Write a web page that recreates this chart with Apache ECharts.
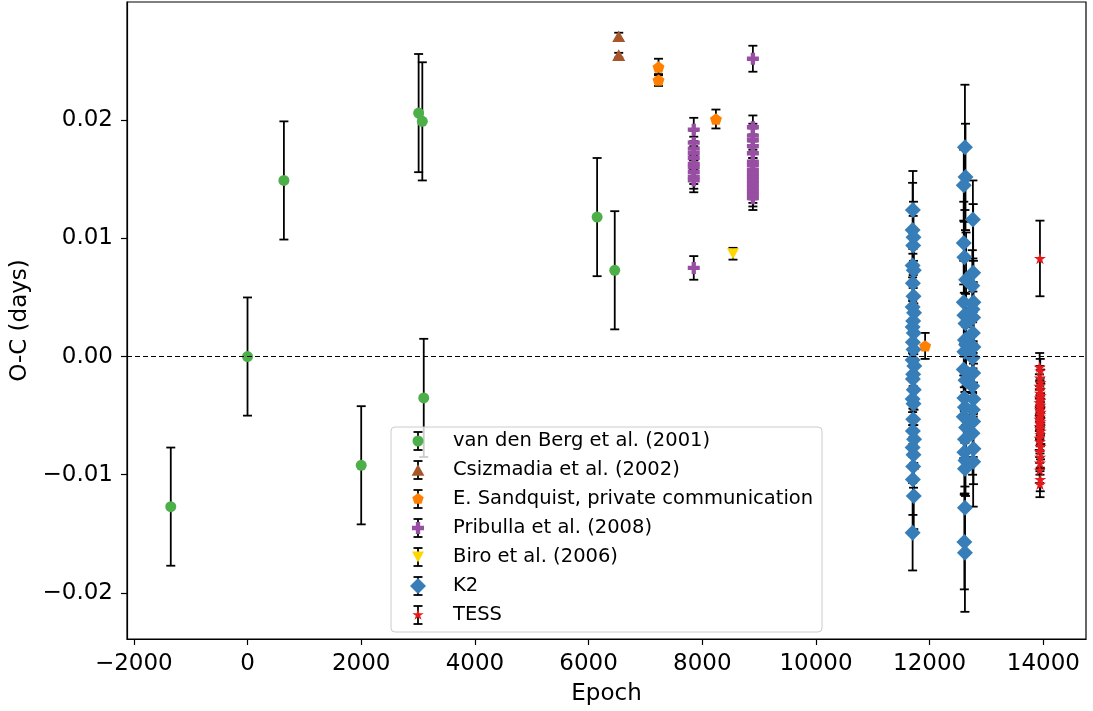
<!DOCTYPE html>
<html>
<head>
<meta charset="utf-8">
<script src="https://cdn.jsdelivr.net/npm/echarts@6/dist/echarts.min.js"></script>
<style>html,body{margin:0;padding:0;background:#fff}#c{width:1093px;height:711px}</style>
</head>
<body>
<div id="c"></div>
<script>
// ---------- data ----------
const xTicks = [-2000, 0, 2000, 4000, 6000, 8000, 10000, 12000, 14000];
const yTicks = [-0.02, -0.01, 0.0, 0.01, 0.02];

const vdbEpoch = [-1350, 0, 640, 2000, 3010, 3075, 3100, 6150, 6460];
const vdbOC    = [-0.0127, 0.0000, 0.0149, -0.0092, 0.0206, 0.0199, -0.0035, 0.0118, 0.0073];
const vdbErr   = [0.005, 0.005, 0.005, 0.005, 0.005, 0.005, 0.005, 0.005, 0.005];

const csiEpoch = [6530, 6530];
const csiOC    = [0.0271, 0.0255];
const csiErr   = [0.0003, 0.0002];

const sandEpoch = [7230, 7230, 8240, 11920];
const sandOC    = [0.0245, 0.0234, 0.0201, 0.0009];
const sandErr   = [0.0007, 0.0005, 0.0008, 0.0011];

const pribEpoch = [7850, 7850, 7850, 7850, 7850, 7850, 7850, 7850, 7850, 7850, 7850,
                   8890, 8890, 8890, 8890, 8890, 8890, 8890, 8890, 8890, 8890, 8890, 8890, 8890, 8890, 8890, 8890, 8890];
const pribOC    = [0.0192, 0.0181, 0.0176, 0.0172, 0.0168, 0.0163, 0.0160, 0.0156, 0.0152, 0.0149, 0.0075,
                   0.0252, 0.0194, 0.0187, 0.0183, 0.0178, 0.0172, 0.0165, 0.0162, 0.0158, 0.0155, 0.0152, 0.0149, 0.0146, 0.0143, 0.0140, 0.0137, 0.0134];
const pribErr   = [0.0010, 0.0010, 0.0010, 0.0010, 0.0010, 0.0010, 0.0010, 0.0010, 0.0010, 0.0010, 0.0010,
                   0.0011, 0.0010, 0.0010, 0.0010, 0.0010, 0.0010, 0.0010, 0.0010, 0.0010, 0.0010, 0.0010, 0.0010, 0.0010, 0.0010, 0.0010, 0.0010, 0.0010];

const biroEpoch = [8540];
const biroOC    = [0.0087];
const biroErr   = [0.0005];

const k2Epoch = [
  11705, 11700, 11715, 11710, 11700, 11720, 11705, 11715, 11700, 11725, 11710, 11700, 11720, 11705, 11715, 11700,
  11730, 11710, 11705, 11720, 11700, 11715, 11710, 11705, 11725, 11700, 11715, 11710, 11705, 11720, 11700,
  12620, 12630, 12600, 12600, 12610, 12640, 12600, 12610, 12630, 12620, 12640, 12610, 12600, 12630, 12610, 12620,
  12600, 12640, 12620, 12610, 12630, 12620, 12620, 12610, 12620,
  12760, 12765, 12750, 12770, 12755, 12765, 12760, 12770, 12755, 12765, 12750, 12770, 12760, 12765, 12755, 12770, 12765];
const k2OC = [
  0.0124, 0.0107, 0.0101, 0.0094, 0.0077, 0.0073, 0.0062, 0.0051, 0.0042, 0.0037, 0.0030, 0.0025, 0.0020, 0.0012, 0.0006, -0.0003,
  -0.0008, -0.0015, -0.0019, -0.0028, -0.0036, -0.0040, -0.0053, -0.0063, -0.0070, -0.0077, -0.0083, -0.0093, -0.0104, -0.0118, -0.0149,
  0.0177, 0.0152, 0.0145, 0.0096, 0.0084, 0.0065, 0.0046, 0.0035, 0.0028, 0.0014, 0.0010, 0.0004, -0.0011, -0.0020, -0.0035, -0.0043,
  -0.0051, -0.0060, -0.0070, -0.0081, -0.0088, -0.0095, -0.0128, -0.0157, -0.0166,
  0.0116, 0.0071, 0.0060, 0.0046, 0.0040, 0.0033, 0.0020, 0.0008, -0.0001, -0.0014, -0.0025, -0.0036, -0.0045, -0.0055, -0.0065, -0.0078, -0.0089];
const k2Err = [
  0.0033, 0.0040, 0.0030, 0.0025, 0.0028, 0.0022, 0.0025, 0.0030, 0.0022, 0.0025, 0.0028, 0.0022, 0.0025, 0.0020, 0.0022, 0.0025,
  0.0028, 0.0022, 0.0025, 0.0030, 0.0022, 0.0025, 0.0028, 0.0022, 0.0025, 0.0030, 0.0028, 0.0025, 0.0030, 0.0028, 0.0032,
  0.0053, 0.0045, 0.0030, 0.0035, 0.0030, 0.0040, 0.0035, 0.0030, 0.0025, 0.0030, 0.0035, 0.0030, 0.0025, 0.0030, 0.0035, 0.0030,
  0.0035, 0.0030, 0.0040, 0.0035, 0.0030, 0.0035, 0.0040, 0.0040, 0.0050,
  0.0033, 0.0058, 0.0030, 0.0035, 0.0030, 0.0030, 0.0035, 0.0030, 0.0030, 0.0035, 0.0030, 0.0030, 0.0035, 0.0030, 0.0035, 0.0030, 0.0038];

const tessEpoch = [13940, 13935, 13945, 13940, 13950, 13930, 13945, 13940, 13955, 13935, 13945, 13930, 13950, 13940, 13935, 13955, 13945,
                   13940, 13930, 13950, 13945, 13935, 13940, 13955, 13945, 13930, 13940, 13950, 13935, 13945, 13940, 13935, 13945, 13940];
const tessOC = [0.0083, -0.0009, -0.0012, -0.0018, -0.0022, -0.0025, -0.0028, -0.0031, -0.0033, -0.0035, -0.0037, -0.0039, -0.0041,
                -0.0043, -0.0045, -0.0047, -0.0049, -0.0051, -0.0053, -0.0055, -0.0057, -0.0059, -0.0061, -0.0063, -0.0066, -0.0069,
                -0.0072, -0.0076, -0.0080, -0.0085, -0.0090, -0.0096, -0.0104, -0.0108];
const tessErr = [0.0032, 0.0012, 0.0010, 0.0010, 0.0011, 0.0010, 0.0010, 0.0011, 0.0010, 0.0010, 0.0010, 0.0011, 0.0010, 0.0010, 0.0010,
                 0.0011, 0.0010, 0.0010, 0.0010, 0.0011, 0.0010, 0.0010, 0.0010, 0.0011, 0.0010, 0.0010, 0.0010, 0.0011, 0.0010, 0.0010,
                 0.0010, 0.0011, 0.0010, 0.0011];

const names = ['van den Berg et al. (2001)', 'Csizmadia et al. (2002)', 'E. Sandquist, private communication',
               'Pribulla et al. (2008)', 'Biro et al. (2006)', 'K2', 'TESS'];

// ---------- styling ----------
const FONT = 'DejaVu Sans';
const CIRCLE_P = 'M1,0 A1,1 0 1,1 -1,0 A1,1 0 1,1 1,0 Z';
const PENTAGON_P = 'M0,-1 L0.951,-0.309 L0.588,0.809 L-0.588,0.809 L-0.951,-0.309 Z';
const PLUS_P = 'M-0.36,-1 L0.36,-1 L0.36,-0.36 L1,-0.36 L1,0.36 L0.36,0.36 L0.36,1 L-0.36,1 L-0.36,0.36 L-1,0.36 L-1,-0.36 L-0.36,-0.36 Z';
const TRI_DOWN_P = 'M-1,-0.9 L1,-0.9 L0,0.9 Z';
const TRI_UP_P = 'M-1,0.9 L1,0.9 L0,-0.9 Z';
const DIAMOND_P = 'M0,-1 L1,0 L0,1 L-1,0 Z';
const STAR_P = 'M0,-1 L0.225,-0.309 L0.951,-0.309 L0.363,0.118 L0.588,0.809 L0,0.382 L-0.588,0.809 L-0.363,0.118 L-0.951,-0.309 L-0.225,-0.309 Z';
// legend icon: pad the path's bounding box so it renders at marker size inside a 16px legend cell
const padIcon = (p, k) => 'path://M' + (-k) + ',' + (-k) + ' M' + k + ',' + k + ' ' + p;

const groups = [
  {name: names[0], e: vdbEpoch,  y: vdbOC,  err: vdbErr,  color: '#4daf4a', path: CIRCLE_P,   size: 11, lk: 1.45},
  {name: names[1], e: csiEpoch,  y: csiOC,  err: csiErr,  color: '#a65628', path: TRI_UP_P,   size: 13, lk: 1.25},
  {name: names[2], e: sandEpoch, y: sandOC, err: sandErr, color: '#ff7f00', path: PENTAGON_P, size: 12, lk: 1.33},
  {name: names[3], e: pribEpoch, y: pribOC, err: pribErr, color: '#984ea3', path: PLUS_P,     size: 12, lk: 1.33},
  {name: names[4], e: biroEpoch, y: biroOC, err: biroErr, color: '#ffd700', path: TRI_DOWN_P, size: 12, lk: 1.33},
  {name: names[5], e: k2Epoch,   y: k2OC,   err: k2Err,   color: '#377eb8', path: DIAMOND_P,  size: 16, lk: 1.0},
  {name: names[6], e: tessEpoch, y: tessOC, err: tessErr, color: '#e41a1c', path: STAR_P,     size: 12, lk: 1.33}
];

function renderErr(params, api) {
  const x = api.value(0), y = api.value(1), e = api.value(2);
  const t = api.coord([x, y + e]);
  const b = api.coord([x, y - e]);
  const hw = 4.5;
  const st = {stroke: '#000', lineWidth: 1.8};
  return {type: 'group', children: [
    {type: 'line', shape: {x1: t[0], y1: t[1], x2: b[0], y2: b[1]}, style: st},
    {type: 'line', shape: {x1: t[0] - hw, y1: t[1], x2: t[0] + hw, y2: t[1]}, style: st},
    {type: 'line', shape: {x1: b[0] - hw, y1: b[1], x2: b[0] + hw, y2: b[1]}, style: st}
  ]};
}

const series = [];
groups.forEach((g, gi) => {
  series.push({
    type: 'custom', name: g.name + ' errorbar', silent: true, z: 2,
    renderItem: renderErr,
    encode: {x: 0, y: 1},
    data: g.e.map((v, i) => [v, g.y[i], g.err[i]])
  });
  const s = {
    type: 'scatter', name: g.name, z: 2, silent: true,
    symbol: 'path://' + g.path, symbolSize: g.size, symbolKeepAspect: true,
    itemStyle: {color: g.color, opacity: 1},
    data: g.e.map((v, i) => [v, g.y[i]])
  };
  if (gi === 0) {
    s.markLine = {
      silent: true, symbol: 'none', label: {show: false},
      lineStyle: {color: '#000', type: [5, 3], width: 1},
      data: [{yAxis: 0}]
    };
  }
  series.push(s);
});

const fmtMinus = (s) => s.replace('-', '\u2212');

// legend frame + legend error bars (layout only)
const legX = 391, legY = 427, legW = 431, legH = 205, rowY0 = 441, rowStep = 29, iconX = 418;
const graphic = [{
  type: 'rect', z: 8, silent: true,
  shape: {x: legX, y: legY, width: legW, height: legH, r: 4},
  style: {fill: 'rgba(255,255,255,0.8)', stroke: '#cccccc', lineWidth: 1}
}];
groups.forEach((g, i) => {
  const cy = rowY0 + i * rowStep;
  const st = {stroke: '#000', lineWidth: 1.8};
  graphic.push({type: 'line', z: 9, silent: true, shape: {x1: iconX, y1: cy - 9, x2: iconX, y2: cy + 9}, style: st});
  graphic.push({type: 'line', z: 9, silent: true, shape: {x1: iconX - 4.5, y1: cy - 9, x2: iconX + 4.5, y2: cy - 9}, style: st});
  graphic.push({type: 'line', z: 9, silent: true, shape: {x1: iconX - 4.5, y1: cy + 9, x2: iconX + 4.5, y2: cy + 9}, style: st});
});

const option = {
  animation: false,
  backgroundColor: '#fff',
  textStyle: {fontFamily: FONT},
  grid: {left: 127, top: 2, width: 959, height: 638, show: true, borderColor: '#000', borderWidth: 1.2, backgroundColor: 'transparent'},
  xAxis: {
    type: 'value', min: -2120, max: 14750,
    name: 'Epoch', nameLocation: 'middle', nameGap: 44,
    nameTextStyle: {fontSize: 23, color: '#000', fontFamily: FONT},
    axisLine: {show: true, onZero: false, lineStyle: {color: '#000', width: 1.2}},
    axisTick: {show: true, inside: false, length: 6, lineStyle: {color: '#000', width: 1.2}, customValues: xTicks},
    axisLabel: {show: true, fontSize: 23, color: '#000', fontFamily: FONT, margin: 14, customValues: xTicks,
                formatter: (v) => fmtMinus(String(Math.round(v)))},
    splitLine: {show: false}
  },
  yAxis: {
    type: 'value', min: -0.0239, max: 0.0300,
    name: 'O-C (days)', nameLocation: 'middle', nameGap: 93, nameRotate: 90,
    nameTextStyle: {fontSize: 23, color: '#000', fontFamily: FONT},
    axisLine: {show: true, onZero: false, lineStyle: {color: '#000', width: 1.2}},
    axisTick: {show: true, inside: false, length: 6, lineStyle: {color: '#000', width: 1.2}, customValues: yTicks},
    axisLabel: {show: true, fontSize: 23, color: '#000', fontFamily: FONT, margin: 14, customValues: yTicks,
                formatter: (v) => fmtMinus((Math.round(v * 100) / 100).toFixed(2))},
    splitLine: {show: false}
  },
  legend: {
    show: true, orient: 'vertical', left: iconX - 8, top: rowY0 - 11, z: 10,
    padding: 0, itemWidth: 16, itemHeight: 16, itemGap: 7,
    selectedMode: false, symbolKeepAspect: true,
    formatter: (n) => '{a|' + n + '}',
    textStyle: {fontSize: 19.5, color: '#000', fontFamily: FONT, lineHeight: 22,
                rich: {a: {fontSize: 19.5, color: '#000', fontFamily: FONT, lineHeight: 22, padding: [0, 0, 0, 22]}}},
    data: groups.map(g => ({name: g.name, icon: padIcon(g.path, g.lk), itemStyle: {color: g.color}}))
  },
  graphic: graphic,
  series: series
};

const chart = echarts.init(document.getElementById('c'), null, {renderer: 'canvas'});
chart.setOption(option);
</script>
</body>
</html>
